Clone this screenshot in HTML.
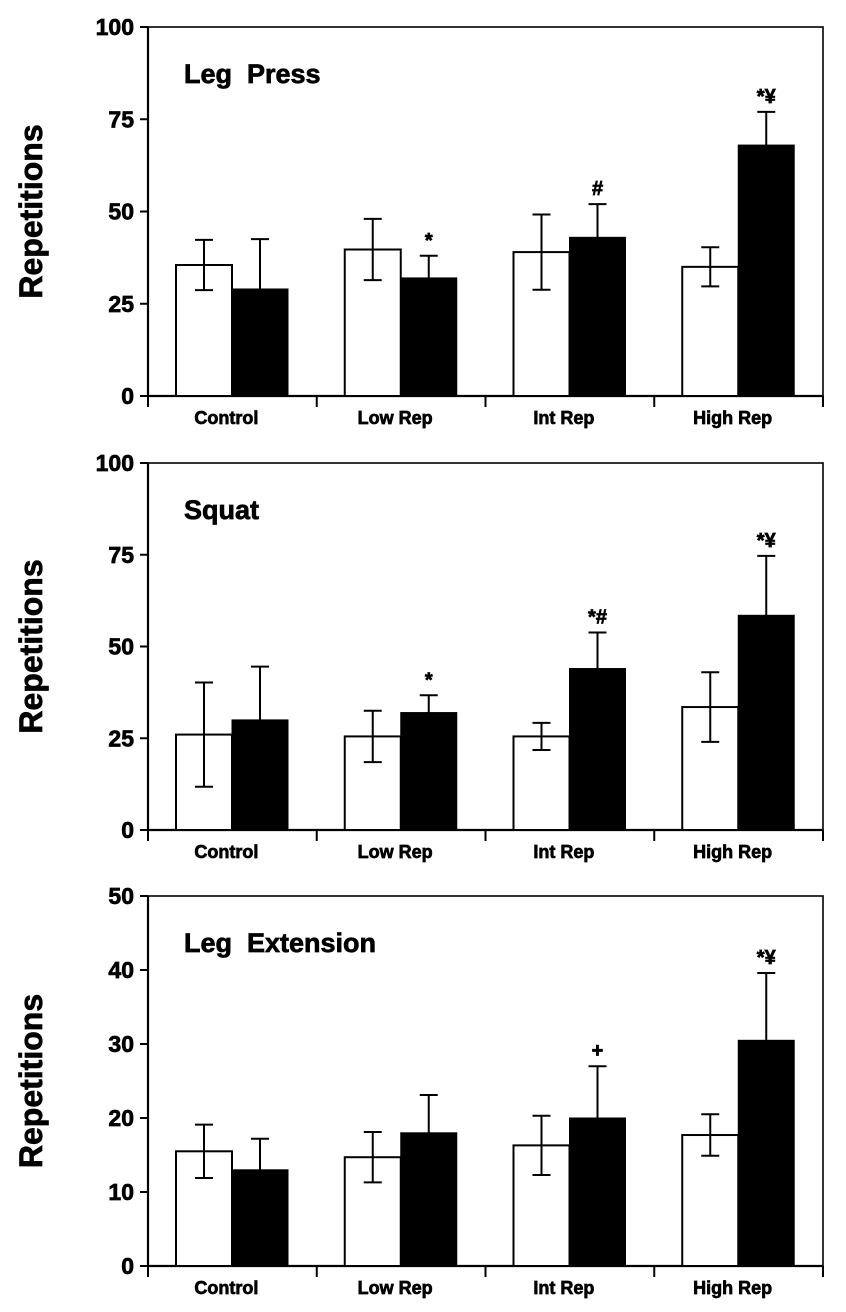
<!DOCTYPE html>
<html><head><meta charset="utf-8"><style>
html,body{margin:0;padding:0;background:#fff;}
svg{display:block;font-family:"Liberation Sans",Arial,sans-serif;}
svg text{stroke:#000;stroke-width:0.7px;}
</style></head><body>
<svg id="chart" width="846" height="1312" viewBox="0 0 846 1312"></svg>
<script>
const categories = ["Control","Low Rep","Int Rep","High Rep"];
const panelTitles = ["Leg  Press","Squat","Leg  Extension"];
const panelMax = [100,100,50];
const yTicks1 = [0,25,50,75,100];
const yTicks2 = [0,25,50,75,100];
const yTicks3 = [0,10,20,30,40,50];
// pre (white) means and SD
const pre1 = [35.5,39.7,39,35];
const preErr1 = [6.8,8.3,10.2,5.3];
const post1 = [29,32,43,68];
const postErr1 = [13.5,6,9,9];
const sig1 = ["","*","#","*¥"];
const pre2 = [26,25.5,25.5,33.5];
const preErr2 = [14.2,7,3.7,9.5];
const post2 = [30,32,44,58.5];
const postErr2 = [14.5,4.7,9.8,16.2];
const sig2 = ["","*","*#","*¥"];
const pre3 = [15.5,14.7,16.3,17.7];
const preErr3 = [3.6,3.4,4,2.8];
const post3 = [13,18,20,30.5];
const postErr3 = [4.2,5.1,7,9.1];
const sig3 = ["","","+","*¥"];

const svg = document.getElementById('chart');
const NS = 'http://www.w3.org/2000/svg';
function mk(tag, attrs, parent, text){
  const e = document.createElementNS(NS, tag);
  for (const k in attrs) e.setAttribute(k, attrs[k]);
  if (text !== undefined) e.textContent = text;
  parent.appendChild(e);
  return e;
}
const panels = [
  {top:27,bottom:396,ticks:yTicks1,pre:pre1,preErr:preErr1,post:post1,postErr:postErr1,sig:sig1},
  {top:463,bottom:830,ticks:yTicks2,pre:pre2,preErr:preErr2,post:post2,postErr:postErr2,sig:sig2},
  {top:896,bottom:1266,ticks:yTicks3,pre:pre3,preErr:preErr3,post:post3,postErr:postErr3,sig:sig3}
];
const xL = 148, xR = 823, catW = (xR - xL) / 4, barW = 56, barOff = 28;

panels.forEach((p, pi) => {
  const g = mk('g', {}, svg);
  
  
  const maxV = panelMax[pi];
  const y = v => p.bottom - (v / maxV) * (p.bottom - p.top);
  const xCat = i => xL + i * catW;
  const fr = mk('rect', {x:xL, y:p.top, width:xR-xL, height:p.bottom-p.top, fill:'none', stroke:'#000', 'stroke-width':1.6}, g);
  
  
  mk('line', {x1:xL, y1:p.top, x2:xL, y2:p.bottom, stroke:'#000','stroke-width':2.2}, g);
  mk('line', {x1:xL, y1:p.bottom, x2:xR, y2:p.bottom, stroke:'#000','stroke-width':2.2}, g);
  p.ticks.forEach(t => {
    mk('line', {x1:xL-8, y1:y(t), x2:xL, y2:y(t), stroke:'#000','stroke-width':2}, g);
    const tl = mk('text', {x:xL-14, y:y(t)+8, 'text-anchor':'end', 'font-size':23, 'font-weight':'bold'}, g, String(t));
    
    
  });
  for (let i = 0; i <= 4; i++) {
    mk('line', {x1:xCat(i), y1:p.bottom, x2:xCat(i), y2:p.bottom+11, stroke:'#000','stroke-width':2}, g);
  }
  categories.forEach((c, i) => {
    const cl = mk('text', {x:xCat(i)+catW/2 - 6, y:p.bottom+28, 'text-anchor':'middle', 'font-size':18, 'font-weight':'bold'}, g, c);
    
    
  });
  const cy = (p.top + p.bottom) / 2;
  const yt = mk('text', {x:0, y:0, transform:`translate(42,${cy}) rotate(-90)`, 'text-anchor':'middle', 'font-size':32, 'font-weight':'bold'}, g, 'Repetitions');
  
  
  const pt = mk('text', {x:184, y:p.top+56, 'font-size':27, 'font-weight':'bold', style:'white-space:pre'}, g, panelTitles[pi]);
  
  
  categories.forEach((c, i) => {
    const x0 = xCat(i) + barOff;
    const cxW = x0 + barW/2, cxB = x0 + barW*1.5;
    const wb = mk('rect', {x:x0, y:y(p.pre[i]), width:barW, height:p.bottom - y(p.pre[i]), fill:'#fff', stroke:'#000', 'stroke-width':2}, g);
    
    
    const hi = y(p.pre[i] + p.preErr[i]), lo = y(p.pre[i] - p.preErr[i]);
    mk('line', {x1:cxW, y1:hi, x2:cxW, y2:lo, stroke:'#000','stroke-width':2}, g);
    mk('line', {x1:cxW-9, y1:hi, x2:cxW+9, y2:hi, stroke:'#000','stroke-width':2}, g);
    mk('line', {x1:cxW-9, y1:lo, x2:cxW+9, y2:lo, stroke:'#000','stroke-width':2}, g);
    const bb = mk('rect', {x:x0+barW, y:y(p.post[i]), width:barW, height:p.bottom - y(p.post[i]), fill:'#000', stroke:'#000', 'stroke-width':1}, g);
    
    
    const hb = y(p.post[i] + p.postErr[i]);
    mk('line', {x1:cxB, y1:hb, x2:cxB, y2:y(p.post[i]), stroke:'#000','stroke-width':2}, g);
    mk('line', {x1:cxB-9, y1:hb, x2:cxB+9, y2:hb, stroke:'#000','stroke-width':2}, g);
    if (p.sig[i]) {
      const s = mk('text', {x:cxB, y:hb-9, 'text-anchor':'middle', 'font-size':20, 'font-weight':'bold'}, g, p.sig[i]);
      
      
    }
  });
});
</script>
</body></html>
